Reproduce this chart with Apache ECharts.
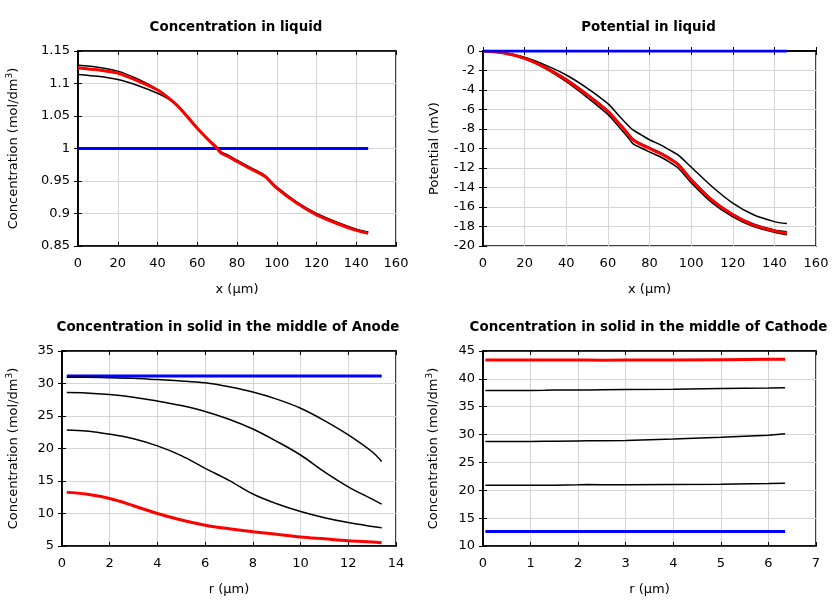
<!DOCTYPE html>
<html>
<head>
<meta charset="utf-8">
<script src="https://cdn.jsdelivr.net/npm/echarts@6/dist/echarts.min.js"></script>
<style>html,body{margin:0;padding:0;background:#fff;}#c{width:840px;height:600px;}</style>
</head>
<body>
<div id="c"></div>
<script>
// ---- Data ----
const liqX = [0, 10, 20, 30, 40, 45, 50, 55, 60, 66, 70, 72, 76, 80, 86, 90, 94, 100, 110, 120, 130, 140, 146];
const liqConcBlue = [1, 1, 1, 1, 1, 1, 1, 1, 1, 1, 1, 1, 1, 1, 1, 1, 1, 1, 1, 1, 1, 1, 1];
const liqConcBlackLow = [1.114, 1.111, 1.106, 1.097, 1.085, 1.077, 1.065, 1.049, 1.031, 1.012, 1.0, 0.993, 0.987, 0.980, 0.970, 0.964, 0.957, 0.939, 0.916, 0.898, 0.886, 0.875, 0.871];
const liqConcBlackTop = [1.128, 1.125, 1.119, 1.107, 1.091, 1.080, 1.067, 1.050, 1.032, 1.013, 1.002, 0.995, 0.989, 0.982, 0.972, 0.966, 0.959, 0.941, 0.918, 0.900, 0.887, 0.876, 0.8715];
const liqConcRed = [1.124, 1.121, 1.116, 1.104, 1.090, 1.079, 1.066, 1.049, 1.031, 1.012, 1.0, 0.993, 0.987, 0.980, 0.970, 0.964, 0.957, 0.939, 0.916, 0.898, 0.885, 0.874, 0.8695];

const potX = [0, 10, 20, 30, 40, 50, 60, 66, 70, 72, 76, 80, 86, 90, 94, 100, 110, 120, 130, 140, 146];
const potBlue = [0, 0, 0, 0, 0, 0, 0, 0, 0, 0, 0, 0, 0, 0, 0, 0, 0, 0, 0, 0, 0];
const potBlackA = [0, -0.15, -0.65, -1.45, -2.46, -3.8, -5.4, -6.8, -7.7, -8.1, -8.6, -9.1, -9.7, -10.2, -10.7, -11.9, -13.9, -15.6, -16.8, -17.5, -17.7];
const potBlackB = [0, -0.18, -0.7, -1.62, -2.87, -4.4, -6.1, -7.5, -8.5, -9.0, -9.5, -9.9, -10.5, -11.0, -11.6, -13.1, -15.2, -16.7, -17.75, -18.35, -18.55];
const potBlackC = [0, -0.22, -0.8, -1.8, -3.15, -4.75, -6.5, -7.95, -8.95, -9.5, -9.95, -10.35, -10.95, -11.45, -12.05, -13.5, -15.55, -17.0, -18.0, -18.6, -18.85];
const potRed = [0, -0.2, -0.75, -1.7, -2.97, -4.5, -6.2, -7.6, -8.6, -9.1, -9.6, -10.0, -10.6, -11.1, -11.7, -13.2, -15.3, -16.8, -17.85, -18.45, -18.7];

const anodeR = [0.2, 1, 2, 3, 4, 5, 6, 7, 8, 9, 10, 11, 12, 13, 13.4];
const anodeBlue = [31.15, 31.15, 31.15, 31.15, 31.15, 31.15, 31.15, 31.15, 31.15, 31.15, 31.15, 31.15, 31.15, 31.15, 31.15];
const anodeBlack1 = [30.95, 30.95, 30.9, 30.8, 30.6, 30.4, 30.1, 29.5, 28.7, 27.6, 26.2, 24.3, 22.1, 19.5, 18.0];
const anodeBlack2 = [28.6, 28.55, 28.3, 27.9, 27.3, 26.6, 25.7, 24.5, 23.0, 21.1, 19.0, 16.4, 14.1, 12.2, 11.45];
const anodeBlack3 = [22.85, 22.7, 22.2, 21.5, 20.4, 18.9, 16.95, 15.1, 13.0, 11.5, 10.3, 9.35, 8.6, 8.0, 7.8];
const anodeRed = [13.25, 13.0, 12.3, 11.2, 10.0, 9.0, 8.2, 7.65, 7.2, 6.8, 6.4, 6.1, 5.8, 5.6, 5.5];

const cathR = [0.05, 0.5, 1, 1.3, 1.5, 2, 2.2, 2.5, 3, 4, 5, 6, 6.35];
const cathRed = [43.4, 43.4, 43.4, 43.4, 43.4, 43.4, 43.4, 43.35, 43.4, 43.4, 43.45, 43.5, 43.5];
const cathBlack1 = [37.9, 37.9, 37.9, 37.95, 38.0, 38.0, 38.0, 38.05, 38.1, 38.15, 38.25, 38.35, 38.4];
const cathBlack2 = [28.75, 28.75, 28.75, 28.78, 28.8, 28.85, 28.87, 28.9, 28.95, 29.2, 29.5, 29.9, 30.15];
const cathBlack3 = [20.9, 20.9, 20.9, 20.9, 20.9, 21.0, 21.05, 21.0, 21.0, 21.05, 21.1, 21.2, 21.25];
const cathBlue = [12.6, 12.6, 12.6, 12.6, 12.6, 12.6, 12.6, 12.6, 12.6, 12.6, 12.6, 12.6, 12.6];

const titles = ['Concentration in liquid', 'Potential in liquid', 'Concentration in solid in the middle of Anode', 'Concentration in solid in the middle of Cathode'];
const concName = 'Concentration (mol/dm{sup|3})';

// ---- Build ----
const FONT = 'DejaVu Sans';
const zip = (xs, ys) => xs.map((x, i) => [x, ys[i]]);
const grids = [
  {left: 78, top: 51, width: 318, height: 195},
  {left: 483, top: 51, width: 333, height: 195},
  {left: 62, top: 351, width: 334, height: 195},
  {left: 483, top: 351, width: 333, height: 195}
];
grids.forEach(g => { g.show = true; g.borderColor = '#000'; g.borderWidth = 1.5; g.containLabel = false; });

const labelStyle = {color: '#000', fontFamily: FONT, fontSize: 13};
const splitLine = {show: true, lineStyle: {color: '#d4d4d4', width: 1}};
const tick = {show: true, inside: true, length: 4, lineStyle: {color: '#000', width: 1}};
function xAx(i, max, interval, name) {
  return {type: 'value', gridIndex: i, min: 0, max: max, interval: interval,
    name: name, nameLocation: 'middle', nameGap: 37,
    nameTextStyle: {color: '#000', fontFamily: FONT, fontSize: 13},
    axisLine: {show: true, lineStyle: {color: '#000', width: 1.5}},
    axisTick: tick, axisLabel: Object.assign({margin: 11}, labelStyle), splitLine: splitLine};
}
function xTop(i, max, interval) {
  return {type: 'value', gridIndex: i, min: 0, max: max, interval: interval, position: 'top',
    axisLine: {show: true, lineStyle: {color: '#000', width: 1.5}},
    axisTick: tick, axisLabel: {show: false}, splitLine: {show: false}};
}
function yAx(i, min, max, interval, name, gap) {
  return {type: 'value', gridIndex: i, min: min, max: max, interval: interval,
    name: name, nameLocation: 'middle', nameGap: gap,
    nameTextStyle: {color: '#000', fontFamily: FONT, fontSize: 13,
      rich: {sup: {fontSize: 9, fontFamily: FONT, color: '#000', verticalAlign: 'top', padding: [0, 0, 8, 0]}}},
    axisLine: {show: true, lineStyle: {color: '#000', width: 1.5}},
    axisTick: tick, axisLabel: Object.assign({margin: 8}, labelStyle), splitLine: splitLine};
}
function yRight(i, min, max, interval) {
  return {type: 'value', gridIndex: i, min: min, max: max, interval: interval, position: 'right',
    axisLine: {show: true, lineStyle: {color: '#000', width: 1.5}},
    axisTick: tick, axisLabel: {show: false}, splitLine: {show: false}};
}
function ser(i, xs, ys, color, width, smooth) {
  return {type: 'line', xAxisIndex: i, yAxisIndex: i, data: zip(xs, ys), showSymbol: false,
    symbol: 'none', smooth: smooth, lineStyle: {color: color, width: width}, silent: true};
}

const option = {
  animation: false,
  backgroundColor: '#fff',
  title: titles.map((t, i) => ({
    text: t, left: grids[i].left + grids[i].width / 2 - 6, top: i < 2 ? 16 : 316, textAlign: 'center',
    textStyle: {fontFamily: FONT, fontSize: 13.4, fontWeight: 'bold', color: '#000'}
  })),
  grid: grids,
  xAxis: [xAx(0, 160, 20, 'x (µm)'), xAx(1, 160, 20, 'x (µm)'), xAx(2, 14, 2, 'r (µm)'), xAx(3, 7, 1, 'r (µm)'),
          xTop(0, 160, 20), xTop(1, 160, 20), xTop(2, 14, 2), xTop(3, 7, 1)],
  yAxis: [yAx(0, 0.85, 1.15, 0.05, concName, 56), yAx(1, -20, 0, 2, 'Potential (mV)', 42),
          yAx(2, 5, 35, 5, concName, 40), yAx(3, 10, 45, 5, concName, 41),
          yRight(0, 0.85, 1.15, 0.05), yRight(1, -20, 0, 2), yRight(2, 5, 35, 5), yRight(3, 10, 45, 5)],
  series: [
    ser(0, liqX, liqConcBlue, '#0000ff', 3, false),
    ser(0, liqX, liqConcBlackLow, '#000', 1.5, 0.25),
    ser(0, liqX, liqConcBlackTop, '#000', 1.5, 0.25),
    ser(0, liqX, liqConcRed, '#ff0000', 3, 0.25),
    ser(1, potX, potBlackA, '#000', 1.5, 0.25),
    ser(1, potX, potBlackB, '#000', 1.5, 0.25),
    ser(1, potX, potBlackC, '#000', 1.5, 0.25),
    ser(1, potX, potRed, '#ff0000', 3, 0.25),
    ser(1, potX, potBlue, '#0000ff', 3, false),
    ser(2, anodeR, anodeBlue, '#0000ff', 3, false),
    ser(2, anodeR, anodeBlack1, '#000', 1.5, 0.35),
    ser(2, anodeR, anodeBlack2, '#000', 1.5, 0.35),
    ser(2, anodeR, anodeBlack3, '#000', 1.5, 0.35),
    ser(2, anodeR, anodeRed, '#ff0000', 3, 0.35),
    ser(3, cathR, cathBlack1, '#000', 1.5, false),
    ser(3, cathR, cathBlack2, '#000', 1.5, false),
    ser(3, cathR, cathBlack3, '#000', 1.5, false),
    ser(3, cathR, cathBlue, '#0000ff', 3, false),
    ser(3, cathR, cathRed, '#ff0000', 3, false)
  ]
};
const chart = echarts.init(document.getElementById('c'), null, {renderer: 'canvas'});
chart.setOption(option);
</script>
</body>
</html>
